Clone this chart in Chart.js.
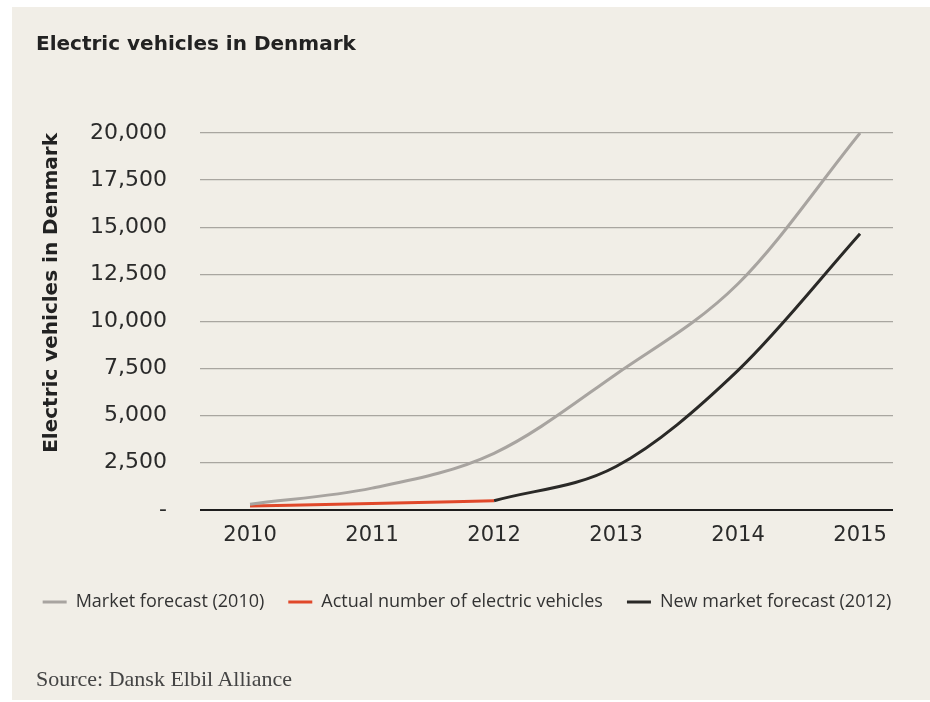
<!DOCTYPE html>
<html>
<head>
<meta charset="utf-8">
<script src="https://cdn.jsdelivr.net/npm/chart.js@4/dist/chart.umd.min.js"></script>
<style>
    html, body { margin: 0; padding: 0; background: #ffffff; }
    #panel {
        position: absolute; left: 12px; top: 7px; width: 918px; height: 693px;
        background: #f1eee7;
    }
    #title {
        position: absolute; left: 24px; top: 24px;
        font-family: "DejaVu Sans", sans-serif; font-weight: bold; font-size: 20px; color: #222;
    }
    #source {
        position: absolute; left: 24px; top: 659px;
        font-family: "Liberation Serif", serif; font-size: 22px; color: #444;
    }
    #wrap { position: absolute; left: 0; top: 0; width: 918px; height: 693px; }
</style>
</head>
<body>
<div id="panel">
    <div id="wrap"><canvas id="chart"></canvas></div>
    <div id="title">Electric vehicles in Denmark</div>
    <div id="source">Source: Dansk Elbil Alliance</div>
</div>
<script>
// values
const years = [2010, 2011, 2012, 2013, 2014, 2015];
const marketForecast2010 = [300, 1150, 3000, 7200, 12000, 20000];
const actualYears = [2010, 2011, 2012];
const actualVehicles = [200, 330, 480];
const newForecastYears = [2012, 2013, 2014, 2015];
const newForecast2012 = [480, 2300, 7400, 14650];
const yTicks = [0, 2500, 5000, 7500, 10000, 12500, 15000, 17500, 20000];

const pairs = (xs, ys) => xs.map((x, i) => ({ x: x, y: ys[i] }));

document.addEventListener("DOMContentLoaded", function () {
    const canvas = document.getElementById("chart");

    const lineSet = (label, data, color) => ({
        label: label,
        data: data,
        borderColor: color,
        backgroundColor: color,
        borderWidth: 3,
        pointRadius: 0,
        cubicInterpolationMode: "monotone",
        fill: false,
    });

    new Chart(canvas, {
        type: "line",
        data: {
            datasets: [
                lineSet("Market forecast (2010)", pairs(years, marketForecast2010), "#a8a4a0"),
                lineSet("Actual number of electric vehicles", pairs(actualYears, actualVehicles), "#e0482a"),
                lineSet("New market forecast (2012)", pairs(newForecastYears, newForecast2012), "#2a2927"),
            ],
        },
        options: {
            responsive: true,
            maintainAspectRatio: false,
            animation: false,
            layout: {
                padding: { left: 0, right: 8, top: 126, bottom: 79 },
            },
            plugins: {
                tooltip: { enabled: false },
                legend: {
                    position: "bottom",
                    labels: {
                        usePointStyle: true,
                        pointStyle: "line",
                        pointStyleWidth: 24,
                        padding: 24,
                        color: "#333",
                        font: { family: "Open Sans", size: 18 },
                    },
                },
            },
            scales: {
                x: {
                    type: "linear",
                    min: 2009.59,
                    max: 2015.27,
                    afterBuildTicks: (scale) => {
                        scale.ticks = years.map((v) => ({ value: v }));
                    },
                    afterFit: (scale) => {
                        scale.height += 16;
                    },
                    ticks: {
                        callback: (v) => String(v),
                        color: "#2a2a2a",
                        padding: 5,
                        font: { family: "DejaVu Sans", size: 21 },
                    },
                    grid: { display: false },
                    border: { display: false },
                },
                y: {
                    min: 0,
                    max: 20000,
                    afterBuildTicks: (scale) => {
                        scale.ticks = yTicks.map((v) => ({ value: v }));
                    },
                    afterFit: (scale) => {
                        scale.width = 188;
                    },
                    title: {
                        display: true,
                        text: "Electric vehicles in Denmark",
                        align: "end",
                        color: "#222",
                        font: { family: "DejaVu Sans", size: 20, weight: "bold" },
                        padding: { top: 28, bottom: 0 },
                    },
                    ticks: {
                        callback: (v) => (v === 0 ? "-" : v.toLocaleString("en-US")),
                        color: "#2a2a2a",
                        padding: 33,
                        font: { family: "DejaVu Sans", size: 22 },
                    },
                    grid: {
                        drawTicks: false,
                        color: (ctx) => (ctx.tick && ctx.tick.value === 0 ? "#1e1e1e" : "#a9a6a0"),
                        lineWidth: (ctx) => (ctx.tick && ctx.tick.value === 0 ? 2 : 1.3),
                    },
                    border: { display: false },
                },
                // empty axis that only keeps room on the right of the plot
                yRight: {
                    position: "right",
                    min: 0,
                    max: 1,
                    afterFit: (scale) => {
                        scale.width = 29;
                    },
                    ticks: { display: false },
                    grid: { display: false },
                    border: { display: false },
                },
            },
        },
    });
});
</script>
</body>
</html>
